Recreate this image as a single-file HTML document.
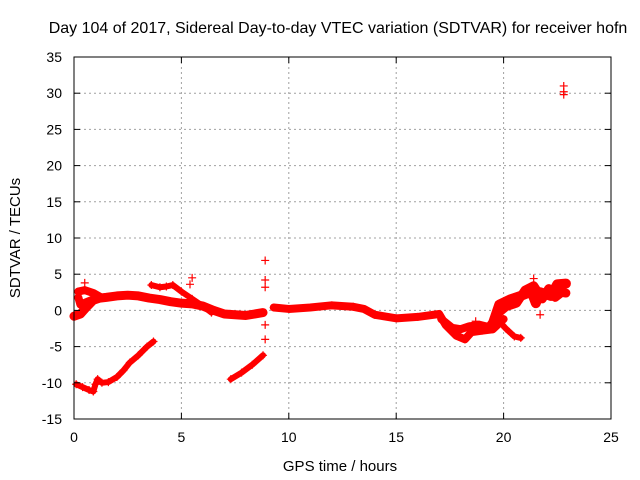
<!DOCTYPE html>
<html><head><meta charset="utf-8"><style>
body{margin:0;background:#fff;}
svg{display:block;font-family:"Liberation Sans",sans-serif;}
</style></head><body>
<svg id="chart" width="640" height="480">
<text x="338" y="33" font-size="16" text-anchor="middle">Day 104 of 2017, Sidereal Day-to-day VTEC variation (SDTVAR) for receiver hofn</text>
<text x="340" y="471" font-size="15" text-anchor="middle">GPS time / hours</text>
<text transform="translate(20,238) rotate(-90)" font-size="15" text-anchor="middle">SDTVAR / TECUs</text>
<g id="grid"></g><g id="marks"></g><g id="axes"></g>
</svg>
<script>
const xTicks=[0,5,10,15,20,25];
const yTicks=[-15,-10,-5,0,5,10,15,20,25,30,35];
const trackA=[[0.1,-10.2],[0.4,-10.6],[0.7,-11.0],[0.9,-11.2],[1.0,-10.2],[1.1,-9.5],[1.3,-10.0],[1.6,-9.9],[2.0,-9.2],[2.3,-8.3],[2.6,-7.2],[3.0,-6.2],[3.4,-5.0],[3.7,-4.3]];
const trackB=[[0.0,-0.8],[0.3,-0.5],[0.6,0.5],[0.9,1.4],[1.2,1.7],[1.5,1.8],[2.0,2.0],[2.5,2.1],[3.0,2.0],[3.5,1.7],[4.0,1.5],[4.5,1.2],[5.0,1.0],[5.5,0.9],[6.0,0.6],[6.5,0.0],[7.0,-0.5],[7.5,-0.6],[8.0,-0.7],[8.4,-0.5],[8.8,-0.3]];
const trackB2=[[0.2,2.6],[0.5,2.8],[0.9,2.4],[1.2,1.9],[0.3,0.8],[0.2,1.8]];
const trackC=[[3.6,3.5],[4.0,3.2],[4.3,3.3],[4.6,3.5],[5.0,2.6],[5.5,1.6],[6.0,0.6],[6.4,-0.3]];
const trackD=[[7.3,-9.5],[7.8,-8.6],[8.3,-7.5],[8.8,-6.2]];
const trackE=[[9.3,0.4],[10.0,0.2],[11.0,0.4],[12.0,0.7],[13.0,0.5],[13.5,0.2],[14.0,-0.6],[15.0,-1.1],[16.0,-0.9],[17.0,-0.5],[17.3,-2.0],[17.8,-3.5],[18.2,-4.0],[18.5,-3.0],[19.0,-2.8],[19.5,-2.6],[20.0,-1.2]];
const trackE2=[[19.8,-1.5],[20.1,-2.5],[20.5,-3.6],[20.8,-3.8]];
const trackE3=[[17.1,-1.2],[17.6,-2.4],[18.0,-2.6],[18.4,-2.2],[18.9,-2.0],[19.3,-2.3],[19.6,-1.2]];
const trackF=[[19.5,-1.8],[19.8,0.8],[20.3,1.5],[20.8,2.0],[21.3,2.6],[21.5,1.0],[21.7,2.5],[22.2,2.0],[22.5,3.6],[22.9,3.7]];
const trackF2=[[19.7,-0.5],[20.1,0.5],[20.6,1.0],[21.0,2.8],[21.4,3.4],[21.8,1.6],[22.1,3.0],[22.4,1.8],[22.7,2.5],[22.9,2.4]];
const singles=[[0.5,3.8],[5.5,4.5],[5.4,3.6],[8.9,6.9],[8.9,4.2],[8.9,3.2],[8.9,-2.0],[8.9,-4.0],[0.0,-0.7],[22.8,31.0],[22.8,30.2],[22.8,29.8],[21.4,4.4],[18.7,-1.5],[21.7,-0.6]];
const X0=74,X1=611,Y0=419,Y1=57;
const sx=t=>X0+(t-0)/(25-0)*(X1-X0);
const sy=v=>Y0-(v+15)/(50)*(Y0-Y1);
const NS="http://www.w3.org/2000/svg";
const grid=document.getElementById('grid'),marks=document.getElementById('marks'),axes=document.getElementById('axes');
function mk(tag,attrs,parent){const e=document.createElementNS(NS,tag);for(const k in attrs)e.setAttribute(k,attrs[k]);parent.appendChild(e);return e;}
xTicks.forEach(t=>{
 if(t>0&&t<25){const g=mk('line',{x1:sx(t),x2:sx(t),y1:Y0,y2:Y1,stroke:'#a0a0a0','stroke-dasharray':'2,3'},grid);
 
 }
 const l=mk('text',{x:sx(t),y:Y0+23,'font-size':14,'text-anchor':'middle'},axes);l.textContent=t;
 
 
 mk('line',{x1:sx(t),x2:sx(t),y1:Y0,y2:Y0-6,stroke:'#000'},axes);
 mk('line',{x1:sx(t),x2:sx(t),y1:Y1,y2:Y1+6,stroke:'#000'},axes);
});
yTicks.forEach(v=>{
 if(v>-15&&v<35){const g=mk('line',{x1:X0,x2:X1,y1:sy(v),y2:sy(v),stroke:'#a0a0a0','stroke-dasharray':'2,3'},grid);
 
 }
 const l=mk('text',{x:X0-12,y:sy(v)+5,'font-size':14,'text-anchor':'end'},axes);l.textContent=v;
 
 
 mk('line',{x1:X0,x2:X0+6,y1:sy(v),y2:sy(v),stroke:'#000'},axes);
 mk('line',{x1:X1,x2:X1-6,y1:sy(v),y2:sy(v),stroke:'#000'},axes);
});
const fr=mk('rect',{x:X0,y:Y1,width:X1-X0,height:Y0-Y1,fill:'none',stroke:'#000'},axes);


function plus(t,v){const x=sx(t),y=sy(v);
 const p=mk('path',{d:`M${x-4},${y}H${x+4}M${x},${y-4}V${y+4}`,stroke:'#f00','stroke-width':1.2},marks);
 
 }
function track(arr,name,w){
 const pl=mk('polyline',{points:arr.map(p=>sx(p[0])+','+sy(p[1])).join(' '),fill:'none',stroke:'#f00','stroke-width':w,'stroke-linejoin':'round','stroke-linecap':'round'},marks);
 
 
 arr.forEach(p=>plus(p[0],p[1]));
}
track(trackA,'track-a',6);track(trackB,'track-b',9);track(trackB2,'track-b-upper',8);
track(trackC,'track-c',6);track(trackD,'track-d',6);track(trackE,'track-e',8);
track(trackE2,'track-e-branch',6);track(trackE3,'track-e-spread',8);
track(trackF,'track-f',10);track(trackF2,'track-f-spread',9);
singles.forEach(p=>plus(p[0],p[1]));
</script>
</body></html>
